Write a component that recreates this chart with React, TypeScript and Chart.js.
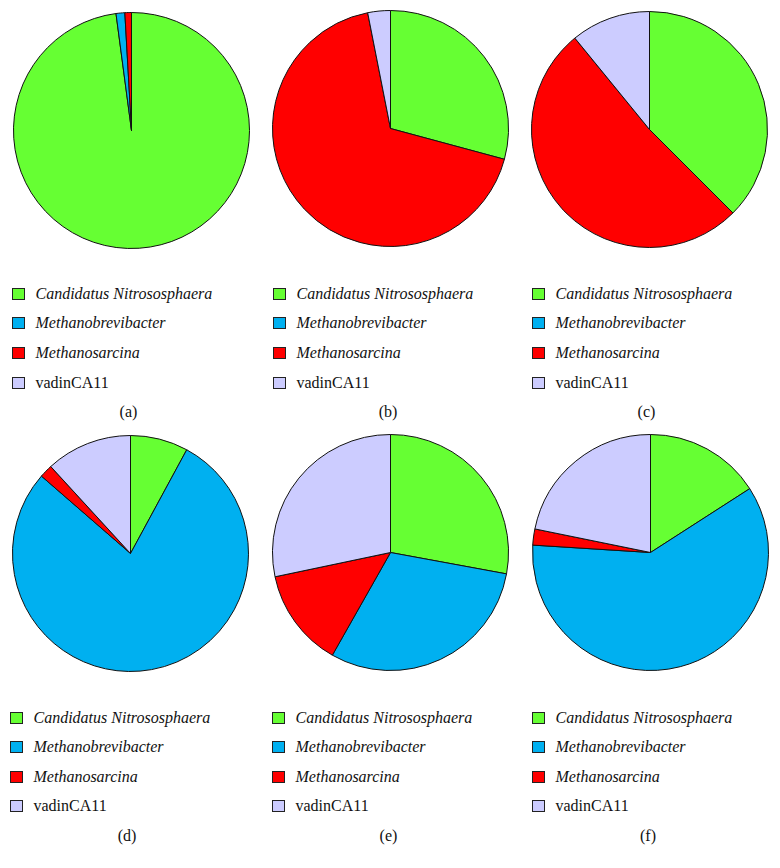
import React, { useEffect, useRef } from "react";
import { Chart, registerables } from "chart.js";

Chart.register(...registerables);

const categories = ["Candidatus Nitrososphaera", "Methanobrevibacter", "Methanosarcina", "vadinCA11"];
const italicFlags = [true, true, true, false];
const sliceColors = ["#66ff33", "#00b0f0", "#ff0000", "#ccccff"];
const panelLabels = ["(a)", "(b)", "(c)", "(d)", "(e)", "(f)"];

const seriesA = [97.9, 1.2, 0.9, 0];
const seriesB = [29.2, 0, 67.7, 3.1];
const seriesC = [37.5, 0, 51.6, 10.9];
const seriesD = [7.9, 78.4, 1.8, 11.8];
const seriesE = [27.9, 30.3, 13.5, 28.3];
const seriesF = [15.9, 60.1, 2.2, 21.8];

const allSeries = [seriesA, seriesB, seriesC, seriesD, seriesE, seriesF];

// layout: canvas top-left, legend left, legend first row center, label center x
const layout = [
  { cx: 13, cy: 12, lx: 12, ly: 293.8, tx: 128.5 },
  { cx: 272, cy: 10, lx: 273, ly: 293.8, tx: 388 },
  { cx: 531, cy: 11, lx: 532, ly: 293.8, tx: 646.5 },
  { cx: 12, cy: 435, lx: 10, ly: 717.5, tx: 127 },
  { cx: 272, cy: 434, lx: 272, ly: 717.5, tx: 388.5 },
  { cx: 532, cy: 434, lx: 532, ly: 717.5, tx: 648 },
];

const SIZE = 237;
const ROW = 29.6;
const FONT = "'Liberation Serif', 'Times New Roman', serif";

function PiePanel({ values, idx }: { values: number[]; idx: number }) {
  const ref = useRef<HTMLCanvasElement | null>(null);
  useEffect(() => {
    if (!ref.current) return;
    const chart = new Chart(ref.current, {
      type: "pie",
      data: {
        labels: categories,
        datasets: [
          {
            data: values,
            backgroundColor: sliceColors,
            borderColor: "#111111",
            borderWidth: 1,
          },
        ],
      },
      options: {
        responsive: false,
        animation: false,
        events: [],
        plugins: {
          legend: { display: false },
          tooltip: { enabled: false },
        },
      },
    });
    return () => chart.destroy();
  }, [values]);
  const L = layout[idx];
  return (
    <>
      <canvas
        ref={ref}
        width={SIZE}
        height={SIZE}
        style={{ position: "absolute", left: L.cx, top: L.cy, width: SIZE, height: SIZE }}
      />
      {categories.map((c, i) => (
        <div
          key={c}
          style={{
            position: "absolute",
            left: L.lx,
            top: L.ly + i * ROW - 10,
            height: 20,
            display: "flex",
            alignItems: "center",
            whiteSpace: "nowrap",
          }}
        >
          <div
            style={{
              width: 13,
              height: 12,
              boxSizing: "border-box",
              border: "1px solid #222",
              background: sliceColors[i],
              marginRight: 10.5,
            }}
          />
          <span
            style={{
              fontFamily: FONT,
              fontSize: 16,
              fontStyle: italicFlags[i] ? "italic" : "normal",
              color: "#111",
              lineHeight: "20px",
            }}
          >
            {c}
          </span>
        </div>
      ))}
      <div
        style={{
          position: "absolute",
          left: L.tx - 30,
          width: 60,
          top: L.ly + 4 * ROW - 10,
          height: 20,
          lineHeight: "20px",
          textAlign: "center",
          fontFamily: FONT,
          fontSize: 16,
          color: "#111",
        }}
      >
        {panelLabels[idx]}
      </div>
    </>
  );
}

export default function App() {
  return (
    <div
      style={{
        position: "absolute",
        left: 0,
        top: 0,
        width: 780,
        height: 868,
        background: "#ffffff",
        overflow: "hidden",
      }}
    >
      {allSeries.map((s, i) => (
        <PiePanel key={i} values={s} idx={i} />
      ))}
    </div>
  );
}
